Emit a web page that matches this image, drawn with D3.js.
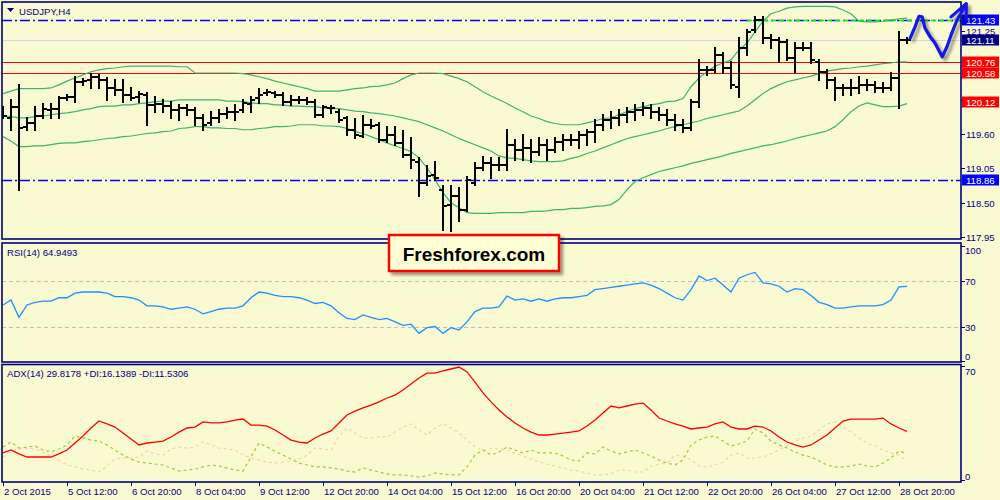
<!DOCTYPE html>
<html><head><meta charset="utf-8">
<script src="https://cdn.jsdelivr.net/npm/d3@7"></script>
<style>
html,body{margin:0;padding:0;background:#fafad2;}
svg{display:block;}
text{font-family:"Liberation Sans",Arial,sans-serif;}
</style></head><body>
<svg id="c" width="1000" height="500"></svg>
<script>
// ---------------- DATA ----------------
const symbolTitle = "USDJPY,H4";
const timeLabels = ["2 Oct 2015","5 Oct 12:00","6 Oct 20:00","8 Oct 04:00","9 Oct 12:00","12 Oct 20:00","14 Oct 04:00","15 Oct 12:00","16 Oct 20:00","20 Oct 04:00","21 Oct 12:00","22 Oct 20:00","26 Oct 04:00","27 Oct 12:00","28 Oct 20:00"];
const barsPerLabel = 8;

const openP = [119.94,119.86,120.04,119.72,119.78,119.89,119.99,120.01,120.18,120.20,
120.44,120.47,120.52,120.47,120.34,120.31,120.23,120.20,120.23,120.07,
120.09,120.05,119.99,120.02,119.99,119.86,119.78,119.86,119.93,119.96,
119.99,120.09,120.18,120.26,120.26,120.23,120.12,120.15,120.15,120.12,
119.91,120.02,119.96,119.86,119.67,119.57,119.75,119.75,119.51,119.59,
119.46,119.27,119.16,118.82,118.95,118.71,118.47,118.60,118.39,118.82,
119.06,119.13,119.11,119.11,119.43,119.35,119.38,119.32,119.43,119.35,
119.48,119.51,119.51,119.59,119.64,119.75,119.83,119.86,119.91,119.96,
119.99,120.02,119.96,119.91,119.83,119.75,119.70,120.12,120.63,120.63,
120.87,120.66,120.36,120.98,121.27,121.43,121.14,121.11,121.08,120.82,
120.98,120.98,120.76,120.60,120.47,120.34,120.34,120.34,120.39,120.39,
120.34,120.34,120.50,121.11];
const highP = [120.04,120.15,120.39,119.86,120.04,120.09,120.09,120.20,120.23,120.52,
120.49,120.57,120.55,120.50,120.47,120.47,120.34,120.28,120.26,120.20,
120.15,120.12,120.07,120.07,120.02,119.91,119.96,119.99,120.02,120.07,
120.15,120.20,120.33,120.31,120.28,120.26,120.21,120.20,120.18,120.15,
120.05,120.05,119.99,119.88,119.85,119.89,119.83,119.78,119.72,119.72,
119.65,119.54,119.21,119.09,119.16,118.76,118.77,118.74,118.92,119.14,
119.24,119.21,119.21,119.67,119.51,119.59,119.51,119.54,119.51,119.54,
119.59,119.59,119.64,119.67,119.83,119.91,119.96,119.99,120.02,120.07,
120.10,120.07,120.02,119.99,119.91,119.83,120.15,120.79,120.68,120.98,
120.90,120.76,121.14,121.27,121.48,121.48,121.19,121.14,121.11,121.06,
121.06,121.06,120.79,120.63,120.50,120.39,120.47,120.52,120.47,120.44,
120.42,120.58,121.24,121.14];
const lowP = [119.86,119.67,118.71,119.67,119.67,119.86,119.86,119.86,120.15,120.12,
120.39,120.34,120.34,120.15,120.23,120.12,120.15,120.12,119.75,119.96,
119.96,119.86,119.83,119.91,119.75,119.67,119.75,119.80,119.86,119.83,
119.96,119.96,120.10,120.23,120.20,120.07,120.07,120.10,120.09,119.88,
119.88,119.94,119.80,119.59,119.54,119.56,119.70,119.48,119.48,119.43,
119.24,119.06,118.60,118.79,118.87,118.07,118.04,118.20,118.36,118.79,
119.03,118.90,119.03,119.03,119.19,119.19,119.16,119.27,119.19,119.32,
119.35,119.43,119.38,119.43,119.48,119.67,119.70,119.75,119.80,119.83,
119.91,119.86,119.83,119.75,119.67,119.64,119.67,120.04,120.55,120.60,
120.58,120.34,120.20,120.87,121.24,121.06,120.98,120.76,120.79,120.60,
120.95,120.74,120.47,120.34,120.15,120.23,120.23,120.26,120.31,120.28,
120.28,120.31,120.02,121.06];
const closeP = [119.89,120.04,119.70,119.78,119.89,120.01,120.01,120.18,120.20,120.44,
120.45,120.52,120.47,120.34,120.31,120.23,120.18,120.25,120.07,120.09,
120.05,119.99,120.02,119.99,119.86,119.75,119.86,119.93,119.96,119.96,
120.10,120.15,120.23,120.28,120.23,120.12,120.15,120.15,120.12,119.91,
120.04,120.02,119.83,119.67,119.59,119.75,119.73,119.51,119.59,119.46,
119.27,119.19,118.82,118.93,118.90,118.44,118.60,118.39,118.87,119.06,
119.13,119.11,119.11,119.43,119.35,119.38,119.32,119.43,119.35,119.48,
119.51,119.51,119.59,119.64,119.75,119.83,119.86,119.91,119.96,119.99,
120.02,119.96,119.91,119.83,119.75,119.70,120.12,120.63,120.63,120.87,
120.66,120.39,120.98,121.24,121.43,121.14,121.11,121.08,120.82,120.98,
120.98,120.79,120.60,120.47,120.34,120.34,120.34,120.39,120.39,120.34,
120.34,120.50,121.11,121.11];

const bbUpper = [120.25,120.29,120.33,120.33,120.33,120.33,120.34,120.39,120.45,120.50,
120.55,120.60,120.63,120.65,120.66,120.68,120.69,120.69,120.69,120.69,
120.69,120.69,120.68,120.68,120.58,120.58,120.58,120.58,120.58,120.58,
120.57,120.55,120.52,120.49,120.45,120.42,120.39,120.36,120.33,120.29,
120.29,120.29,120.29,120.31,120.33,120.34,120.36,120.37,120.39,120.42,
120.49,120.55,120.58,120.58,120.58,120.57,120.53,120.49,120.44,120.36,
120.28,120.21,120.15,120.09,120.02,119.96,119.89,119.85,119.80,119.77,
119.75,119.75,119.75,119.78,119.81,119.85,119.86,119.91,119.96,120.01,
120.04,120.07,120.09,120.12,120.13,120.17,120.36,120.50,120.60,120.69,
120.74,120.79,120.95,121.06,121.24,121.41,121.53,121.57,121.62,121.64,
121.65,121.65,121.65,121.65,121.64,121.59,121.53,121.41,121.40,121.40,
121.41,121.43,121.45,121.46];
const bbMiddle = [119.89,119.88,119.86,119.86,119.88,119.89,119.91,119.93,119.94,119.96,
119.99,120.01,120.04,120.05,120.05,120.07,120.07,120.09,120.10,120.12,
120.13,120.13,120.15,120.15,120.15,120.15,120.15,120.15,120.13,120.13,
120.12,120.10,120.09,120.09,120.07,120.07,120.05,120.05,120.04,120.04,
120.02,120.01,120.01,119.99,119.97,119.96,119.94,119.93,119.91,119.89,
119.86,119.83,119.80,119.75,119.70,119.65,119.59,119.53,119.48,119.43,
119.38,119.33,119.25,119.22,119.21,119.19,119.17,119.16,119.16,119.16,
119.17,119.21,119.24,119.29,119.33,119.38,119.43,119.48,119.53,119.56,
119.59,119.62,119.65,119.69,119.72,119.75,119.78,119.81,119.85,119.88,
119.91,119.94,119.97,120.05,120.15,120.25,120.33,120.39,120.44,120.47,
120.50,120.53,120.57,120.61,120.63,120.65,120.66,120.68,120.69,120.71,
120.73,120.74,120.76,120.76];
const bbLower = [119.56,119.49,119.40,119.40,119.41,119.41,119.43,119.45,119.46,119.46,
119.48,119.49,119.51,119.53,119.54,119.56,119.57,119.59,119.61,119.62,
119.64,119.65,119.69,119.70,119.72,119.72,119.70,119.70,119.69,119.69,
119.67,119.67,119.69,119.70,119.72,119.72,119.73,119.75,119.75,119.75,
119.73,119.73,119.72,119.69,119.64,119.61,119.56,119.51,119.46,119.41,
119.37,119.32,119.22,119.06,118.87,118.66,118.50,118.42,118.34,118.33,
118.33,118.33,118.34,118.34,118.34,118.34,118.36,118.36,118.37,118.39,
118.39,118.41,118.41,118.42,118.44,118.45,118.47,118.55,118.71,118.84,
118.90,118.95,119.00,119.03,119.06,119.09,119.13,119.16,119.19,119.22,
119.25,119.29,119.32,119.35,119.38,119.41,119.43,119.46,119.49,119.53,
119.56,119.59,119.62,119.65,119.72,119.83,119.96,120.05,120.10,120.07,
120.04,120.04,120.05,120.09];

const rsi = [48.7,53,38,48.7,51,52,52,55,55,59,
60,60,60,59,56,56,55,53,48,48,
47,45,46,47,45,41,43,45,46,46,
48,55,60,59,57,56,56,55,53,50,
51,48,42,37,36,40,38,36,37,34,
31,32,24,29,30,24,29,27,34,43,
46,46,47,56.5,53,54,52,54,52,54,
55,55,56,57,62,63,64,65,66,67,
68,66,63,59,55,53,62,74,70,72,
66,60,72,75,77,68,67,65,60,63,
62,57,51,49,46,46,47,48,48,48,
49,53,64.5,64.9493];

const adx = [16.6,18.4,16.0,14.1,14.1,14.1,14.1,16.0,18.4,22.7,
27.0,31.9,36.2,34.4,32.5,28.8,25.2,21.5,22.7,23.3,
23.9,26.4,29.4,31.9,32.5,35.6,35.0,35.0,35.6,36.8,
37.4,33.7,33.7,33.1,30.7,27.6,24.5,23.3,22.7,25.8,
28.2,30.1,35.0,39.9,42.3,44.2,46.0,47.9,50.3,52.1,
55.2,58.9,62.6,65.6,65.6,66.9,68.1,69.3,66.3,60.1,
53.4,47.9,42.9,38.7,35.0,31.9,29.4,27.6,27.6,28.2,
28.8,29.4,30.1,33.1,36.8,41.1,45.4,44.2,45.4,46.6,
47.2,42.9,38.0,36.2,34.4,33.1,31.3,31.9,32.5,34.4,
35.6,32.5,31.3,31.3,33.1,32.5,30.1,26.4,23.3,21.5,
20.2,21.5,24.5,27.6,31.9,36.2,37.4,37.4,37.4,37.4,
38.0,34.4,31.9,29.8178];
const plusDI = [20.2,23.3,19.6,20.2,20.9,18.4,17.2,19.0,21.5,27.0,
25.8,24.5,23.9,21.5,18.4,15.3,12.9,11.0,10.4,9.8,
9.2,7.4,5.5,6.1,6.7,8.0,9.2,8.6,7.4,6.1,
5.5,14.1,22.7,20.2,17.8,15.3,12.9,10.4,9.2,8.0,
8.0,7.4,6.7,5.5,4.9,7.4,6.1,4.9,3.7,3.1,
3.1,2.5,1.8,2.5,4.3,3.7,3.1,3.1,8.0,15.3,
18.4,15.3,17.2,20.2,18.4,16.6,18.4,16.6,16.6,16.6,
14.7,12.3,11.7,16.6,16.0,20.2,17.8,16.0,17.2,18.4,
16.6,14.7,12.3,10.4,9.2,12.3,21.5,24.5,26.4,27.0,
23.9,20.9,22.1,23.9,31.3,28.8,23.9,21.5,19.6,17.2,
15.3,14.1,11.7,9.2,8.0,8.0,8.6,9.8,8.6,8.0,
10.4,13.5,17.8,16.1389];
const minusDI = [14.1,17.8,19.0,19.6,19.0,17.2,14.7,12.3,9.2,8.0,
6.7,6.1,4.9,8.6,12.9,13.5,13.5,14.1,17.8,16.0,
15.3,19.0,20.2,19.6,20.2,23.3,21.5,19.6,19.0,18.4,
15.3,13.5,12.3,11.0,10.4,11.0,11.7,12.9,15.3,19.6,
19.0,18.4,27.0,31.9,28.8,25.8,25.8,26.4,26.4,29.4,
32.5,34.4,30.7,27.6,31.9,34.4,31.9,28.8,24.5,20.2,
17.8,19.6,19.0,18.4,16.6,14.7,12.9,11.0,9.8,8.6,
7.4,6.1,5.5,4.3,3.1,3.1,3.7,6.1,6.1,4.9,
4.9,8.6,9.8,10.4,15.3,14.7,12.3,8.6,8.0,9.2,
11.0,15.3,16.6,13.5,13.5,14.1,16.0,18.4,20.9,23.9,
25.8,27.0,30.7,34.4,35.6,32.5,29.4,25.8,22.7,20.9,
18.4,16.6,15.3,11.5306];

const priceTicks = [121.25,120.70,120.15,119.60,119.05,118.50,117.95];
const levelPrices = [121.43,121.11,120.76,120.58,120.12,118.86];
const resistanceFromBar = 93;           // thick line at 121.43 starts here
const rsiLevels = [70,30];
const rsiAxis = [100,70,30,0];
const adxAxis = [70,0];
// hand-drawn forecast path (bar index, price)
const arrowPath = [[113.4,121.14],[114.0,121.32],[114.5,121.49],[114.9,121.48],[115.25,121.30],[115.9,121.16],[116.5,121.06],[117.4,120.84],[118.0,121.00],[118.6,121.22],[119.25,121.43],[119.9,121.57],[120.4,121.69]];
const arrowHead = [[118.5,121.48],[120.4,121.69],[120.4,121.45]];

// ---------------- LAYOUT ----------------
const svg = d3.select("#c");
const N = closeP.length;
const navy = "#000080";
const P = {l:2, r:961, mainT:2, mainB:239, rsiT:243, rsiB:362, adxT:364.5, adxB:482};

const x = d3.scaleLinear().domain([0, 113]).range([3, 907]);
const yP = d3.scaleLinear().domain([117.95, 121.43]).range([237, 20]);
const yR = d3.scaleLinear().domain([0, 100]).range([361, 246]);
const yA = d3.scaleLinear().domain([0, 70]).range([480, 365.9]);

svg.append("rect").attr("width",1000).attr("height",500).attr("fill","#fafad2");

const defs = svg.append("defs");
const f = defs.append("filter").attr("id","sh").attr("x","-20%").attr("y","-50%").attr("width","140%").attr("height","300%");
f.append("feGaussianBlur").attr("in","SourceAlpha").attr("stdDeviation",1.6).attr("result","b");
f.append("feOffset").attr("in","b").attr("dx",1).attr("dy",3).attr("result","o");
f.append("feComponentTransfer").attr("in","o").attr("result","o2").append("feFuncA").attr("type","linear").attr("slope",0.35);
const fm = f.append("feMerge"); fm.append("feMergeNode").attr("in","o2"); fm.append("feMergeNode").attr("in","SourceGraphic");
const f2 = defs.append("filter").attr("id","sh2").attr("x","-20%").attr("y","-20%").attr("width","150%").attr("height","150%");
f2.append("feGaussianBlur").attr("in","SourceAlpha").attr("stdDeviation",1.5).attr("result","b");
f2.append("feOffset").attr("in","b").attr("dx",3).attr("dy",3).attr("result","o");
f2.append("feComponentTransfer").attr("in","o").attr("result","o2").append("feFuncA").attr("type","linear").attr("slope",0.4);
const fm2 = f2.append("feMerge"); fm2.append("feMergeNode").attr("in","o2"); fm2.append("feMergeNode").attr("in","SourceGraphic");

function clip(id, y0, y1){ defs.append("clipPath").attr("id",id).append("rect").attr("x",P.l).attr("y",y0).attr("width",P.r-P.l).attr("height",y1-y0); }
clip("cm",P.mainT,P.mainB); clip("cr",P.rsiT,P.rsiB); clip("ca",P.adxT,P.adxB);

// ---------- main panel ----------
const gm = svg.append("g").attr("clip-path","url(#cm)");
gm.append("line").attr("x1",P.l).attr("x2",P.r).attr("y1",Math.round(yP(levelPrices[1]))+0.5).attr("y2",Math.round(yP(levelPrices[1]))+0.5).attr("stroke","#d4d4e4").attr("stroke-width",1);
[levelPrices[0], levelPrices[5]].forEach(v=>{
  const yy = Math.round(yP(v))+0.5;
  gm.append("line").attr("x1",P.l).attr("x2",P.r).attr("y1",yy).attr("y2",yy).attr("stroke","#0000ff").attr("stroke-width",1.3).attr("stroke-dasharray","10,3,2,3");
});
[levelPrices[2], levelPrices[3]].forEach(v=>{
  const yy = Math.round(yP(v))+0.5;
  gm.append("line").attr("x1",P.l).attr("x2",P.r).attr("y1",yy).attr("y2",yy).attr("stroke","#ff0000").attr("stroke-width",1.2);
});
{ const yy = Math.round(yP(levelPrices[4]))+0.5;
  gm.append("line").attr("x1",P.l).attr("x2",P.r).attr("y1",yy).attr("y2",yy).attr("stroke","#000").attr("stroke-width",1.5).attr("filter","url(#sh)"); }

const bbLine = arr => d3.line().x((d,i)=>x(i)).y(d=>yP(d))(arr);
[bbUpper,bbMiddle,bbLower].forEach(a=>{
  gm.append("path").attr("d",bbLine(a)).attr("fill","none").attr("stroke","#3cb371").attr("stroke-width",1.2);
});

{ const yy = Math.round(yP(levelPrices[0]))+0.5;
  gm.append("line").attr("x1",x(resistanceFromBar)).attr("x2",P.r).attr("y1",yy).attr("y2",yy).attr("stroke","#000").attr("stroke-width",2.5).attr("filter","url(#sh)");
  gm.append("line").attr("x1",x(resistanceFromBar)).attr("x2",P.r).attr("y1",yy).attr("y2",yy).attr("stroke","#00ee00").attr("stroke-width",1.5).attr("stroke-dasharray","5,3");
}

const idx = d3.range(N);
const gb = gm.append("g").attr("stroke","#000").attr("stroke-width",2);
gb.selectAll("line.v").data(idx).join("line").attr("class","v")
  .attr("x1",i=>x(i)).attr("x2",i=>x(i)).attr("y1",i=>Math.round(yP(highP[i]))-1).attr("y2",i=>Math.round(yP(lowP[i]))+1);
gb.selectAll("line.o").data(idx).join("line").attr("class","o")
  .attr("x1",i=>x(i)-4).attr("x2",i=>x(i)).attr("y1",i=>Math.round(yP(openP[i]))).attr("y2",i=>Math.round(yP(openP[i])));
gb.selectAll("line.c").data(idx).join("line").attr("class","c")
  .attr("x1",i=>x(i)).attr("x2",i=>x(i)+4).attr("y1",i=>Math.round(yP(closeP[i]))).attr("y2",i=>Math.round(yP(closeP[i])));

svg.append("path").attr("d","M7,8 L14,8 L10.5,12 Z").attr("fill",navy);
svg.append("text").attr("x",19).attr("y",11).attr("dominant-baseline","central").attr("font-size",9.6).attr("fill",navy).text(symbolTitle);

// ---------- RSI panel ----------
const gr = svg.append("g").attr("clip-path","url(#cr)");
rsiLevels.forEach(v=>{
  const yy = Math.round(yR(v))+0.5;
  gr.append("line").attr("x1",P.l).attr("x2",P.r).attr("y1",yy).attr("y2",yy).attr("stroke","#c0c0c0").attr("stroke-dasharray","4,3");
});
gr.append("path").attr("d",d3.line().x((d,i)=>x(i)).y(d=>yR(d))(rsi)).attr("fill","none").attr("stroke","#1e90ff").attr("stroke-width",1.3);
svg.append("text").attr("x",7).attr("y",252.5).attr("dominant-baseline","central").attr("font-size",9.6).attr("fill",navy)
  .text("RSI(14) " + rsi[N-1].toFixed(4));

// ---------- ADX panel ----------
const ga = svg.append("g").attr("clip-path","url(#ca)");
const lA = arr => d3.line().x((d,i)=>x(i)).y(d=>yA(d))(arr);
ga.append("path").attr("d",lA(minusDI)).attr("fill","none").attr("stroke","#f6cfaa").attr("stroke-width",1.2).attr("stroke-dasharray","3,3");
ga.append("path").attr("d",lA(plusDI)).attr("fill","none").attr("stroke","#9acd32").attr("stroke-width",1.2).attr("stroke-dasharray","3,3");
ga.append("path").attr("d",lA(adx)).attr("fill","none").attr("stroke","#ff0000").attr("stroke-width",1.3);
svg.append("text").attr("x",7).attr("y",373.5).attr("dominant-baseline","central").attr("font-size",9.6).attr("fill",navy)
  .text("ADX(14) " + adx[N-1].toFixed(4) + " +DI:" + plusDI[N-1].toFixed(4) + " -DI:" + minusDI[N-1].toFixed(4));

// ---------- frames ----------
const fr = svg.append("g").attr("fill","none").attr("stroke",navy).attr("stroke-width",1.6);
fr.append("rect").attr("x",P.l).attr("y",P.mainT).attr("width",P.r-P.l).attr("height",P.mainB-P.mainT);
fr.append("rect").attr("x",P.l).attr("y",P.rsiT).attr("width",P.r-P.l).attr("height",P.rsiB-P.rsiT);
fr.append("rect").attr("x",P.l).attr("y",P.adxT).attr("width",P.r-P.l).attr("height",P.adxB-P.adxT);

// ---------- price axis ----------
const ax = svg.append("g");
priceTicks.forEach(v=>{
  const yy = Math.round(yP(v))+0.5;
  ax.append("line").attr("x1",P.r).attr("x2",P.r+4).attr("y1",yy).attr("y2",yy).attr("stroke",navy);
  // tick labels hidden behind a level label box are not drawn (as in the terminal)
  const covered = levelPrices.some(l => Math.abs(yP(l) - yy) < 7);
  if (!covered)
    ax.append("text").attr("x",P.r+5).attr("y",yy-0.5).attr("dominant-baseline","central").attr("font-size",9.6).attr("fill",navy).text(v.toFixed(2));
});
const levelFill = ["#0000ff","#000080","#ff0000","#ff0000","#ff0000","#0000ff"];
levelPrices.forEach((v,k)=>{
  const yy = Math.round(yP(v));
  ax.append("rect").attr("x",P.r+1).attr("y",yy-5.5).attr("width",37).attr("height",11).attr("fill",levelFill[k]);
  ax.append("text").attr("x",P.r+5).attr("y",yy+0.5).attr("dominant-baseline","central").attr("font-size",9.6).attr("fill","#fff").text(v.toFixed(2));
});
function sideLabels(vals, sc, top, bot){
  vals.forEach(v=>{
    const yy = Math.round(sc(v))+0.5;
    if (yy>top && yy<bot) ax.append("line").attr("x1",P.r).attr("x2",P.r+4).attr("y1",yy).attr("y2",yy).attr("stroke",navy);
    const ty = Math.max(top+7, Math.min(bot-6, yy));
    ax.append("text").attr("x",P.r+4).attr("y",ty).attr("dominant-baseline","central").attr("font-size",9.6).attr("fill",navy).text(v);
  });
}
sideLabels(rsiAxis, yR, P.rsiT, P.rsiB);
sideLabels(adxAxis, yA, P.adxT, P.adxB);

// ---------- time axis ----------
timeLabels.forEach((t,k)=>{
  const xx = Math.round(x(k*barsPerLabel))+0.5;
  ax.append("line").attr("x1",xx).attr("x2",xx).attr("y1",P.adxB).attr("y2",P.adxB+4).attr("stroke",navy);
  ax.append("text").attr("x",xx+0.5).attr("y",491).attr("dominant-baseline","central").attr("font-size",9.6).attr("fill",navy).text(t);
});

// ---------- hand-drawn forecast ----------
const ap = d3.line().x(d=>x(d[0])).y(d=>yP(d[1])).curve(d3.curveLinear);
const ga2 = svg.append("g").attr("filter","url(#sh2)");
ga2.append("path").attr("d",ap(arrowPath)).attr("fill","none").attr("stroke","#1515e8").attr("stroke-width",3.2).attr("stroke-linejoin","round").attr("stroke-linecap","round");
ga2.append("path").attr("d",ap(arrowHead)).attr("fill","none").attr("stroke","#1515e8").attr("stroke-width",3.2).attr("stroke-linejoin","round").attr("stroke-linecap","round");

// ---------- logo ----------
const lg = svg.append("g");
lg.append("rect").attr("x",389).attr("y",235).attr("width",170).attr("height",36).attr("fill","#ffffd6").attr("stroke","#ff0000").attr("stroke-width",2.5).attr("filter","url(#sh2)");
lg.append("text").attr("x",474).attr("y",254).attr("text-anchor","middle").attr("dominant-baseline","central").attr("font-size",19).attr("font-weight","bold").attr("fill","#000").text("Freshforex.com");
</script>
</body></html>
